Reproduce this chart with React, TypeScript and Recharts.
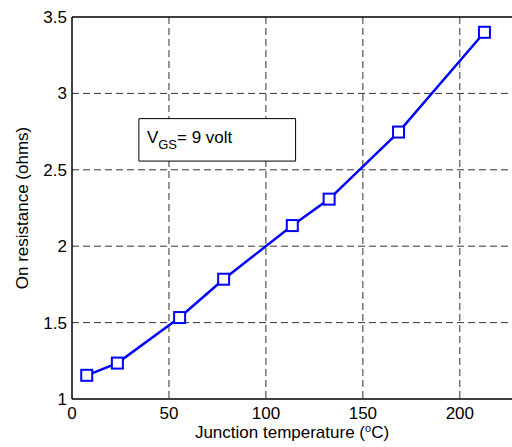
import { LineChart, Line, XAxis, YAxis, CartesianGrid, ReferenceLine, ReferenceArea } from 'recharts';

// junction temperature (deg C) vs on resistance (ohms)
const temps = [7.6, 23.4, 55.5, 78.2, 113.6, 132.6, 168.4, 212.7];
const resistances = [1.155, 1.235, 1.533, 1.784, 2.135, 2.308, 2.747, 3.4];
const xTicks = [0, 50, 100, 150, 200];
const yTicks = [1, 1.5, 2, 2.5, 3, 3.5];
const xGrid = [50, 100, 150, 200];
const yGrid = [1.5, 2, 2.5, 3];

const data = temps.map((t, i) => ({ t, r: resistances[i] }));

const FONT = '"Liberation Sans", Arial, sans-serif';
const BLUE = '#0000ff';

const SquareDot = (props: any) => {
  const { cx, cy } = props;
  if (cx == null || cy == null) return null;
  return <rect x={cx - 5.5} y={cy - 5.5} width={11} height={11} fill="#fff" stroke={BLUE} strokeWidth={2} />;
};

const BoxLabel = (props: any) => {
  const vb = props.viewBox || {};
  const x = vb.x + 8;
  const y = vb.y + vb.height / 2 + 3;
  return (
    <text x={x} y={y} fontFamily={FONT} fontSize={17} fill="#000">
      <tspan>V</tspan>
      <tspan fontSize={13} dy={6}>GS</tspan>
      <tspan dy={-6}>= 9 volt</tspan>
    </text>
  );
};

const YTitle = (props: any) => {
  const vb = props.viewBox || {};
  const cy = vb.y + vb.height / 2;
  return (
    <text x={22} y={cy} transform={`rotate(-90 22 ${cy})`} textAnchor="middle" dominantBaseline="central"
      fontFamily={FONT} fontSize={17} fill="#000">
      On resistance (ohms)
    </text>
  );
};

const XTitle = () => (
  <text x={292} y={438} textAnchor="middle" fontFamily={FONT} fontSize={17} fill="#000">
    Junction temperature (<tspan fontSize={11} dy={-6}>o</tspan><tspan dy={6}>C)</tspan>
  </text>
);

export default function App() {
  return (
    <div style={{ position: 'absolute', left: 0, top: 0, width: 512, height: 447, overflow: 'hidden', background: '#fff' }}>
      <LineChart width={540} height={447} data={data} margin={{ top: 17, right: 22, bottom: 0, left: 0 }}>
        <CartesianGrid stroke="#333" strokeDasharray="7 4" strokeWidth={1} verticalValues={xGrid} horizontalValues={yGrid} />
        <XAxis
          dataKey="t"
          type="number"
          domain={[0, 230]}
          ticks={xTicks}
          height={48}
          tickLine={false}
          tickSize={6}
          tickMargin={2}
          axisLine={{ stroke: '#000', strokeWidth: 1.5 }}
          tick={{ fill: '#000', fontSize: 17, fontFamily: FONT }}
          label={<XTitle />}
        />
        <YAxis
          type="number"
          domain={[1, 3.5]}
          ticks={yTicks}
          width={72}
          tickLine={false}
          tickSize={5}
          tickMargin={0}
          axisLine={{ stroke: '#000', strokeWidth: 1.5 }}
          tick={{ fill: '#000', fontSize: 17, fontFamily: FONT }}
          tickFormatter={(v: number) => String(v)}
          label={<YTitle />}
        />
        <ReferenceLine y={3.5} stroke="#000" strokeWidth={1.5} />
        <ReferenceArea x1={34.5} x2={115.3} y1={2.557} y2={2.835} fill="#fff" fillOpacity={1} stroke="#000" strokeWidth={1} label={<BoxLabel />} />
        <Line
          dataKey="r"
          type="linear"
          stroke={BLUE}
          strokeWidth={2.5}
          dot={<SquareDot />}
          isAnimationActive={false}
        />
      </LineChart>
    </div>
  );
}
